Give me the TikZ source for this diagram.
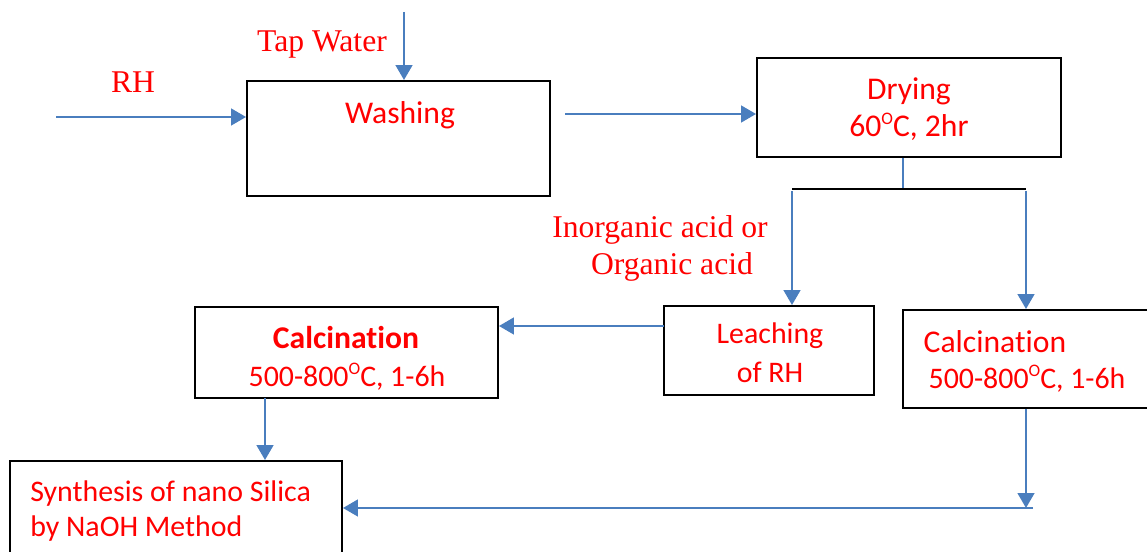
\documentclass[tikz,border=0pt]{standalone}
\usepackage{fontspec}
\setmainfont{Carlito}[Ligatures=NoCommon]
\newfontfamily\timesf{Liberation Serif}
\usetikzlibrary{arrows.meta}
\definecolor{lnblue}{RGB}{74,126,190}
\definecolor{txtred}{RGB}{255,0,0}
\newcommand{\degO}{\raisebox{0.4em}{\fontsize{10}{10}\selectfont O}}
\tikzset{
  boxnode/.style={draw=black, line width=1.1pt, inner sep=0pt},
  flow/.style={draw=lnblue, line width=1.3pt, -{Triangle[length=8.5pt,width=9.5pt]}},
  plainflow/.style={draw=lnblue, line width=1.3pt},
  sanstxt/.style={text=txtred, font=\fontsize{18}{21}\selectfont, inner sep=0pt},
  smalltxt/.style={text=txtred, font=\fontsize{17}{20}\selectfont, inner sep=0pt},
  serftxt/.style={text=txtred, font=\timesf\fontsize{18}{21}\selectfont, inner sep=0pt},
}
\begin{document}
\begin{tikzpicture}
\useasboundingbox (0,0) rectangle (22.94,-11.04);
% boxes
\node[boxnode, minimum width=6.06cm, minimum height=2.30cm] (wash) at (7.97,-2.77) {};
\node[boxnode, minimum width=6.08cm, minimum height=1.98cm] (dry) at (18.18,-2.15) {};
\node[boxnode, minimum width=4.20cm, minimum height=1.78cm] (leach) at (15.38,-7.01) {};
\node[boxnode, minimum width=5.04cm, minimum height=1.96cm] (rcalc) at (20.58,-7.18) {};
\node[boxnode, minimum width=6.06cm, minimum height=1.82cm] (lcalc) at (6.93,-7.05) {};
\node[boxnode, minimum width=6.64cm, minimum height=2.10cm] (synth) at (3.52,-10.27) {};
% texts
\node[sanstxt] (washt) at (8.0,-2.3) {Washing};
\node[serftxt] (rht) at (2.66,-1.64) {RH};
\node[serftxt] (tapt) at (6.44,-0.9) {Tap Water};
\node[sanstxt] (dryt1) at (18.18,-1.82) {Drying};
\node[sanstxt] (dryt2) at (18.18,-2.54) {60\degO C, 2hr};
\node[serftxt] (acid1) at (13.2,-4.6) {Inorganic acid or};
\node[serftxt] (acid2) at (13.44,-5.34) {Organic acid};
\node[smalltxt] (leacht1) at (15.4,-6.72) {Leaching};
\node[smalltxt] (leacht2) at (15.4,-7.44) {of RH};
\node[sanstxt] (rcalct1) at (19.9,-6.84) {Calcination};
\node[smalltxt] (rcalct2) at (20.54,-7.58) {500-800\degO C, 1-6h};
\node[sanstxt, font=\bfseries\fontsize{18}{21}\selectfont] (lcalct1) at (6.92,-6.76) {Calcination};
\node[smalltxt] (lcalct2) at (6.94,-7.54) {500-800\degO C, 1-6h};
\node[smalltxt, anchor=west] (synt1) at (0.6,-9.88) {Synthesis of nano Silica};
\node[smalltxt, anchor=west] (synt2) at (0.6,-10.58) {by NaOH Method};
% coordinates
\coordinate (rhs) at (1.12,-2.34);
\coordinate (taps) at (8.08,-0.24);
\coordinate (wout) at (11.3,-2.28);
\coordinate (split) at (18.06,-3.78);
\coordinate (splitL) at (15.84,-3.78);
\coordinate (splitR) at (20.52,-3.78);
\coordinate (leachout) at (13.28,-6.52);
\coordinate (ldown) at (5.3,-7.96);
\coordinate (rdownend) at (20.52,-10.16);
\coordinate (hstart) at (20.66,-10.16);
% connectors
\draw[flow] (rhs) -- (rhs -| wash.west);
\draw[flow] (taps) -- (taps |- wash.north);
\draw[flow] (wout) -- (wout -| dry.west);
\draw[plainflow, line width=0.9pt] (split |- dry.south) -- (split);
\draw[black, line width=1.1pt] (splitL) -- (splitR);
\draw[flow] ([yshift=-1pt]splitL) -- (splitL |- leach.north);
\draw[flow] ([yshift=-1pt]splitR) -- (splitR |- rcalc.north);
\draw[flow] (leachout) -- (leachout -| lcalc.east);
\draw[flow] (ldown) -- (ldown |- synth.north);
\draw[flow] (splitR |- rcalc.south) -- (rdownend);
\draw[flow] (hstart) -- (hstart -| synth.east);
\end{tikzpicture}
\end{document}
